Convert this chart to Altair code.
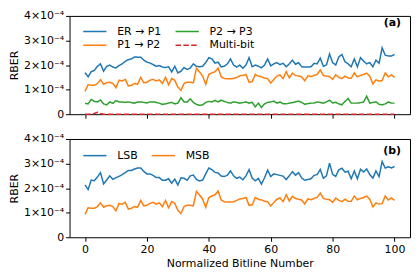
import altair as alt
import pandas as pd

bitline = list(range(101))

# values in units of 1e-4
er_p1 = [1.69, 1.52, 1.73, 1.78, 1.95, 2.05, 1.75, 1.95, 2.00, 1.92,
         1.88, 1.98, 2.05, 2.15, 2.22, 2.25, 2.33, 2.32, 2.32, 2.20,
         2.12, 2.08, 2.02, 1.95, 1.98, 1.92, 1.90, 1.93, 1.72, 1.95,
         1.68, 1.75, 1.90, 1.82, 1.88, 2.05, 1.95, 1.93, 1.95, 2.10,
         2.30, 2.25, 2.08, 2.12, 1.92, 1.95, 2.05, 2.25, 2.00, 1.92,
         2.00, 1.87, 2.00, 2.30, 1.93, 2.00, 1.95, 1.89, 2.00, 2.25,
         1.97, 2.05, 2.10, 2.02, 2.07, 1.93, 2.05, 2.20, 2.03, 2.10,
         1.93, 1.92, 1.92, 1.93, 2.07, 2.05, 2.28, 1.95, 2.00, 2.45,
         2.10, 2.00, 2.33, 2.43, 2.13, 2.05, 1.93, 2.25, 1.93, 2.30,
         2.16, 2.05, 2.10, 1.93, 2.20, 2.07, 2.70, 2.40, 2.37, 2.37,
         2.43]

p1_p2 = [0.93, 1.20, 1.18, 1.18, 1.25, 1.40, 1.22, 1.28, 1.30, 1.25,
         1.08, 1.38, 1.35, 1.42, 1.15, 1.18, 1.25, 1.22, 1.50, 1.28,
         1.30, 1.38, 1.42, 1.35, 1.40, 1.25, 1.50, 1.20, 1.45, 1.38,
         1.10, 0.97, 1.25, 1.30, 1.30, 1.28, 1.87, 1.72, 1.55, 1.22,
         1.62, 1.68, 1.73, 1.88, 1.52, 1.45, 1.44, 1.44, 1.45, 1.50,
         1.56, 1.58, 1.62, 1.30, 1.32, 1.62, 1.55, 1.52, 1.47, 1.45,
         1.27, 1.42, 1.55, 1.60, 1.45, 1.73, 1.48, 1.67, 1.58, 1.55,
         1.52, 1.36, 1.56, 1.53, 1.58, 1.62, 1.80, 1.58, 1.55, 1.53,
         1.42, 1.60, 1.50, 1.45, 1.55, 1.47, 1.46, 1.68, 1.52, 1.58,
         1.62, 1.67, 1.55, 1.23, 1.40, 1.35, 1.37, 1.68, 1.52, 1.60,
         1.50]

p2_p3 = [0.44, 0.42, 0.60, 0.52, 0.50, 0.58, 0.42, 0.38, 0.50, 0.44,
         0.55, 0.50, 0.50, 0.48, 0.50, 0.47, 0.45, 0.50, 0.50, 0.48,
         0.46, 0.50, 0.50, 0.48, 0.45, 0.40, 0.42, 0.45, 0.48, 0.42,
         0.45, 0.67, 0.50, 0.50, 0.62, 0.48, 0.40, 0.36, 0.38, 0.48,
         0.52, 0.50, 0.56, 0.50, 0.57, 0.52, 0.48, 0.45, 0.50, 0.48,
         0.45, 0.47, 0.50, 0.45, 0.48, 0.30, 0.45, 0.27, 0.42, 0.48,
         0.50, 0.53, 0.45, 0.50, 0.42, 0.42, 0.45, 0.47, 0.50, 0.53,
         0.48, 0.40, 0.43, 0.45, 0.45, 0.50, 0.48, 0.45, 0.50, 0.57,
         0.46, 0.48, 0.42, 0.38, 0.52, 0.64, 0.45, 0.45, 0.45, 0.47,
         0.50, 0.73, 0.45, 0.48, 0.50, 0.40, 0.38, 0.42, 0.50, 0.45,
         0.45]

multi_bit = [0.00, 0.00, 0.01, 0.03, 0.08, 0.03, 0.00, 0.00, 0.00, 0.00,
             0.00, 0.00, 0.00, 0.00, 0.00, 0.00, 0.00, 0.00, 0.00, 0.00,
             0.00, 0.00, 0.00, 0.00, 0.00, 0.00, 0.00, 0.00, 0.00, 0.00,
             0.00, 0.00, 0.00, 0.00, 0.00, 0.00, 0.00, 0.00, 0.00, 0.00,
             0.00, 0.00, 0.00, 0.00, 0.00, 0.00, 0.00, 0.00, 0.00, 0.00,
             0.00, 0.00, 0.00, 0.00, 0.00, 0.00, 0.00, 0.00, 0.00, 0.00,
             0.00, 0.00, 0.00, 0.00, 0.00, 0.00, 0.00, 0.00, 0.00, 0.00,
             0.00, 0.00, 0.00, 0.00, 0.00, 0.00, 0.00, 0.00, 0.00, 0.00,
             0.00, 0.00, 0.00, 0.00, 0.00, 0.00, 0.00, 0.00, 0.00, 0.00,
             0.00, 0.00, 0.00, 0.00, 0.00, 0.00, 0.00, 0.00, 0.00, 0.00,
             0.00]

lsb = [2.13, 1.94, 2.33, 2.30, 2.45, 2.63, 2.17, 2.33, 2.50, 2.36,
       2.43, 2.48, 2.55, 2.63, 2.72, 2.72, 2.78, 2.82, 2.82, 2.68,
       2.58, 2.58, 2.52, 2.43, 2.43, 2.32, 2.32, 2.38, 2.20, 2.37,
       2.13, 2.42, 2.40, 2.32, 2.50, 2.53, 2.35, 2.29, 2.33, 2.58,
       2.82, 2.75, 2.64, 2.62, 2.49, 2.47, 2.53, 2.70, 2.50, 2.40,
       2.45, 2.34, 2.50, 2.75, 2.41, 2.30, 2.40, 2.16, 2.42, 2.73,
       2.47, 2.58, 2.55, 2.52, 2.49, 2.35, 2.50, 2.67, 2.53, 2.63,
       2.41, 2.32, 2.35, 2.38, 2.52, 2.55, 2.76, 2.40, 2.50, 3.02,
       2.56, 2.48, 2.75, 2.81, 2.65, 2.69, 2.38, 2.70, 2.38, 2.77,
       2.66, 2.78, 2.55, 2.41, 2.70, 2.47, 3.08, 2.82, 2.87, 2.82,
       2.88]

msb = [0.93, 1.20, 1.18, 1.18, 1.25, 1.40, 1.22, 1.28, 1.30, 1.25,
       1.08, 1.38, 1.35, 1.42, 1.15, 1.18, 1.25, 1.22, 1.50, 1.28,
       1.30, 1.38, 1.42, 1.35, 1.40, 1.25, 1.50, 1.20, 1.45, 1.38,
       1.10, 0.97, 1.25, 1.30, 1.30, 1.28, 1.87, 1.72, 1.55, 1.22,
       1.62, 1.68, 1.73, 1.88, 1.52, 1.45, 1.44, 1.44, 1.45, 1.50,
       1.56, 1.58, 1.62, 1.30, 1.32, 1.62, 1.55, 1.52, 1.47, 1.45,
       1.27, 1.42, 1.55, 1.60, 1.45, 1.73, 1.48, 1.67, 1.58, 1.55,
       1.52, 1.36, 1.56, 1.53, 1.58, 1.62, 1.80, 1.58, 1.55, 1.53,
       1.42, 1.60, 1.50, 1.45, 1.55, 1.47, 1.46, 1.68, 1.52, 1.58,
       1.62, 1.67, 1.55, 1.23, 1.40, 1.35, 1.37, 1.68, 1.52, 1.60,
       1.50]

top_names = ["ER → P1", "P1 → P2", "P2 → P3", "Multi-bit"]
top_colors = ["#1f77b4", "#ff7f0e", "#2ca02c", "#d62728"]
top_dashes = [[1, 0], [1, 0], [1, 0], [5.5, 2.4]]
bot_names = ["LSB", "MSB"]
bot_colors = ["#1f77b4", "#ff7f0e"]
x_ticks = [0, 20, 40, 60, 80, 100]
y_ticks = [0, 1e-4, 2e-4, 3e-4, 4e-4]
UNIT = 1e-4


def frame(pairs):
    rows = []
    for order, (name, vals) in enumerate(pairs):
        for xi, v in zip(bitline, vals):
            rows.append({"bitline": xi, "rber": v * UNIT, "series": name, "order": order})
    return pd.DataFrame(rows)


top_df = frame([("ER → P1", er_p1), ("P1 → P2", p1_p2), ("P2 → P3", p2_p3), ("Multi-bit", multi_bit)])
bot_df = frame([("LSB", lsb), ("MSB", msb)])

W, H = 343, 99
FONT = "DejaVu Sans"

x_scale = alt.Scale(domain=[-5, 105], nice=False, zero=False)
y_scale = alt.Scale(domain=[0, 4e-4], nice=False)
y_axis = alt.Axis(values=y_ticks, title="RBER",
                  labelExpr="datum.value == 0 ? '0' : round(datum.value * 10000) + '×10⁻⁴'",
                  minExtent=47, maxExtent=47, titlePadding=3)

leg = alt.Legend(title=None, columns=2)
bot_leg = alt.Legend(title=None, columns=2, orient="none", legendX=18, legendY=9)

top_lines = alt.Chart(top_df).mark_line(strokeWidth=1.5).encode(
    x=alt.X("bitline:Q", scale=x_scale,
            axis=alt.Axis(values=x_ticks, labels=False, title=None)),
    y=alt.Y("rber:Q", scale=y_scale, axis=y_axis),
    color=alt.Color("series:N", scale=alt.Scale(domain=top_names, range=top_colors), legend=leg),
    strokeDash=alt.StrokeDash("series:N", scale=alt.Scale(domain=top_names, range=top_dashes), legend=leg),
    order="order:Q",
)
top_label = alt.Chart(pd.DataFrame({"t": ["(a)"]})).mark_text(
    align="right", baseline="middle", fontWeight="bold", fontSize=11, font=FONT, color="black"
).encode(text="t:N", x=alt.value(W - 9), y=alt.value(7))
top = alt.layer(top_lines, top_label).properties(width=W, height=H)

bot_lines = alt.Chart(bot_df).mark_line(strokeWidth=1.5).encode(
    x=alt.X("bitline:Q", scale=x_scale,
            axis=alt.Axis(values=x_ticks, title="Normalized Bitline Number", titlePadding=3)),
    y=alt.Y("rber:Q", scale=y_scale, axis=y_axis),
    color=alt.Color("series:N", scale=alt.Scale(domain=bot_names, range=bot_colors), legend=bot_leg),
    order="order:Q",
)
bot_label = alt.Chart(pd.DataFrame({"t": ["(b)"]})).mark_text(
    align="right", baseline="middle", fontWeight="bold", fontSize=11, font=FONT, color="black"
).encode(text="t:N", x=alt.value(W - 9), y=alt.value(12))
bottom = alt.layer(bot_lines, bot_label).properties(width=W, height=H)

chart = alt.vconcat(top, bottom, spacing=12).resolve_scale(
    color="independent", strokeDash="independent"
).resolve_legend(color="independent", strokeDash="independent").properties(
    padding={"left": 0, "top": 0, "right": 0, "bottom": 0}
).configure_view(
    stroke="black", strokeWidth=1
).configure_axis(
    labelFont=FONT, titleFont=FONT, labelFontSize=11, titleFontSize=11,
    titleFontWeight="normal", labelColor="black", titleColor="black",
    tickColor="black", tickSize=4, domain=False, grid=False, labelPadding=2
).configure_legend(
    orient="none", legendX=18, legendY=8,
    symbolType="M-1.8,0H1.8", symbolSize=169, symbolStrokeWidth=1.5,
    labelFontSize=11, labelOffset=15,
    columnPadding=10, rowPadding=1,
    padding=0, labelFont=FONT, labelColor="black"
)

chart.save("out.html", embed_options={"renderer": "svg", "actions": False})
